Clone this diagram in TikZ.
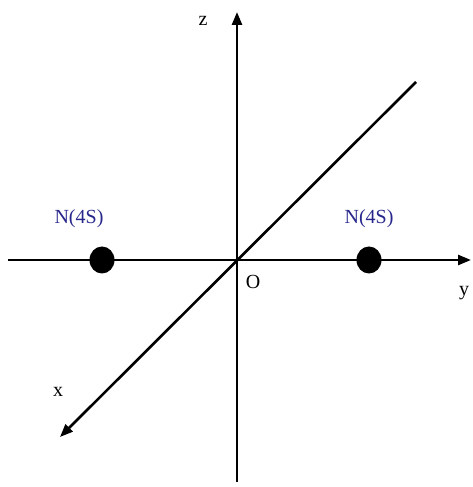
\documentclass[tikz,border=0pt]{standalone}
\usepackage{fontspec}
\setmainfont{Liberation Serif}
\usetikzlibrary{arrows.meta}
\definecolor{labblue}{RGB}{40,40,140}
\tikzset{
  axis/.style={line width=2.6pt,-{Triangle[length=13pt,width=10pt]}},
  plainaxis/.style={line width=2.6pt},
  atom/.style={ellipse,fill=black,minimum width=25pt,minimum height=27pt,inner sep=0pt},
  lab/.style={font=\fontsize{20}{20}\selectfont,text=labblue},
  axlab/.style={font=\fontsize{20}{20}\selectfont}
}
\usetikzlibrary{shapes.geometric}
\begin{document}
\begin{tikzpicture}[x=1pt,y=1pt]
\useasboundingbox (0,0) rectangle (472,487);
\coordinate (O) at (237,227);
\coordinate (ztop) at (237,475);
\coordinate (zbot) at (237,5);
\coordinate (yleft) at (8,227);
\coordinate (yright) at (471,227);
\coordinate (dtop) at (416,405);
\coordinate (xtip) at (60,50);
\draw[axis] (zbot) -- (ztop);
\draw[axis] (yleft) -- (yright);
\draw[axis] (dtop) -- (xtip);
\node[atom] (n1) at (102,227) {};
\node[atom] (n2) at (369,227) {};
\node[lab] (l1) at (79,268) {N(4S)};
\node[lab] (l2) at (369,268) {N(4S)};
\node[axlab] (zl) at (203,466) {z};
\node[axlab] (yl) at (464,194) {y};
\node[axlab] (xl) at (58,95) {x};
\node[axlab] (ol) at (253,205) {O};
\end{tikzpicture}
\end{document}
